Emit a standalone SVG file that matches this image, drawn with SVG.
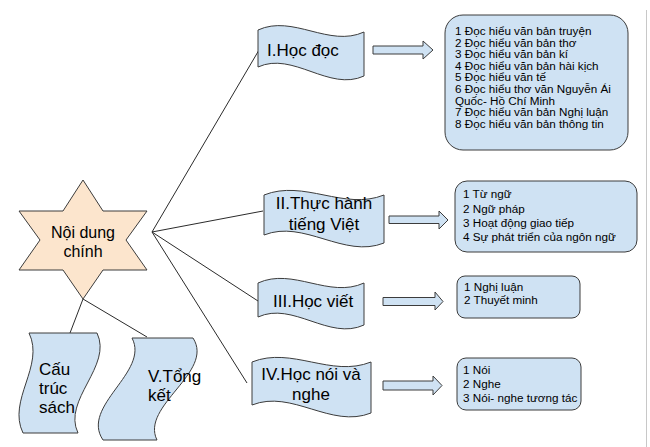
<svg xmlns="http://www.w3.org/2000/svg" width="650" height="447" viewBox="0 0 650 447">
<style>
.shape{fill:#cfe2f3;stroke:#3c3c3c;stroke-width:1}
.star{fill:#fce5cd;stroke:#3c3c3c;stroke-width:1}
.conn{stroke:#2b2b2b;stroke-width:1;fill:none}
.t{font-family:"Liberation Sans",Arial,sans-serif;fill:#000}
.big{font-size:17px}
.small{font-size:11.7px}
</style>
<rect width="650" height="447" fill="#fff"/>
<line x1="646.5" y1="10" x2="646.5" y2="447" stroke="#c8c8c8" stroke-width="1"/>
<g id="connectors">
<line class="conn" x1="152" y1="232" x2="259" y2="50"/>
<line class="conn" x1="152" y1="232" x2="263" y2="211"/>
<line class="conn" x1="152" y1="232" x2="258" y2="301"/>
<line class="conn" x1="152" y1="232" x2="247" y2="383"/>
<line class="conn" x1="83" y1="299" x2="70" y2="333"/>
<line class="conn" x1="83" y1="299" x2="147" y2="337"/>
<path class="shape" d="M373,46 L423,46 L423,41 L433,50 L423,59 L423,54 L373,54 Z"/>
<path class="shape" d="M389,216 L439,216 L439,211 L448,220 L439,229 L439,223.5 L389,223.5 Z"/>
<path class="shape" d="M383,297.5 L435,297.5 L435,292 L443,301.5 L435,310 L435,305.5 L383,305.5 Z"/>
<path class="shape" d="M383,381 L433,381 L433,376 L442,385.5 L433,395 L433,390 L383,390 Z"/>
</g>
<g id="star">
<polygon class="star" points="83,180 103,211 147,211 126,240 147,270 103,270 83,299 63,270 19,270 40,240 19,211 63,211"/>
<text class="t" font-size="16" x="83" y="238" text-anchor="middle">Nội dung</text>
<text class="t" font-size="16" x="83" y="257" text-anchor="middle">chính</text>
</g>
<g id="node-hoc-doc">
<path class="shape" d="M258,30 C293,14 329,48 364,32 L364,76 C329,92 293,51 258,67 Z"/>
<text class="t big" x="267" y="56">I.Học đọc</text>
</g>
<g id="node-thuc-hanh">
<path class="shape" d="M264,195 C304,179 344,211 384,195 L384,243 C344,259 304,219 264,235 Z"/>
<text class="t big" x="324" y="209" text-anchor="middle">II.Thực hành</text>
<text class="t big" x="324" y="230" text-anchor="middle">tiếng Việt</text>
</g>
<g id="node-hoc-viet">
<path class="shape" d="M258,283 C293,267 329,299 364,283 L364,325 C329,341 293,301 258,317 Z"/>
<text class="t big" x="273" y="307">III.Học viết</text>
</g>
<g id="node-hoc-noi">
<path class="shape" d="M252,362 C292,346 331,378 371,362 L371,413 C331,429 292,389 252,405 Z"/>
<text class="t big" x="311" y="380" text-anchor="middle">IV.Học nói và</text>
<text class="t big" x="311" y="400" text-anchor="middle">nghe</text>
</g>
<g id="node-cau-truc">
<path class="shape" d="M29,333 L97,333 C113,366 62,400 78,433 L23,433 C7,400 45,366 29,333 Z"/>
<text class="t big" x="39" y="375">Cấu</text>
<text class="t big" x="39" y="394">trúc</text>
<text class="t big" x="39" y="413">sách</text>
</g>
<g id="node-tong-ket">
<path class="shape" d="M132,338 L193,338 C215,372 140,406 157,440 L103,440 C80,406 150,372 132,338 Z"/>
<text class="t big" x="148" y="382">V.Tổng</text>
<text class="t big" x="148" y="401">kết</text>
</g>
<g id="box-1">
<rect class="shape" x="445" y="15" width="183" height="135" rx="18"/>
<text class="t small" x="455" y="35">1 Đọc hiểu văn bản truyện</text>
<text class="t small" x="455" y="46.6">2 Đọc hiểu văn bản thơ</text>
<text class="t small" x="455" y="58.2">3 Đọc hiểu văn bản kí</text>
<text class="t small" x="455" y="69.8">4 Đọc hiểu văn bản hài kịch</text>
<text class="t small" x="455" y="81.4">5 Đọc hiểu văn tế</text>
<text class="t small" x="455" y="93">6 Đọc hiểu thơ văn Nguyễn Ái</text>
<text class="t small" x="455" y="104.6">Quốc- Hồ Chí Minh</text>
<text class="t small" x="455" y="116.2">7 Đọc hiểu văn bản Nghị luận</text>
<text class="t small" x="455" y="127.8">8 Đọc hiểu văn bản thông tin</text>
</g>
<g id="box-2">
<rect class="shape" x="455" y="181" width="182" height="71" rx="12"/>
<text class="t small" x="463" y="198.3">1 Từ ngữ</text>
<text class="t small" x="463" y="212.5">2 Ngữ pháp</text>
<text class="t small" x="463" y="226.7">3 Hoạt động giao tiếp</text>
<text class="t small" x="463" y="241">4 Sự phát triển của ngôn ngữ</text>
</g>
<g id="box-3">
<rect class="shape" x="457" y="276" width="123" height="42" rx="8"/>
<text class="t small" x="464" y="290.5">1 Nghị luận</text>
<text class="t small" x="464" y="303.5">2 Thuyết minh</text>
</g>
<g id="box-4">
<rect class="shape" x="457" y="358" width="124" height="52" rx="9"/>
<text class="t small" x="463" y="374">1 Nói</text>
<text class="t small" x="463" y="388">2 Nghe</text>
<text class="t small" x="463" y="402">3 Nói- nghe tương tác</text>
</g>
</svg>
